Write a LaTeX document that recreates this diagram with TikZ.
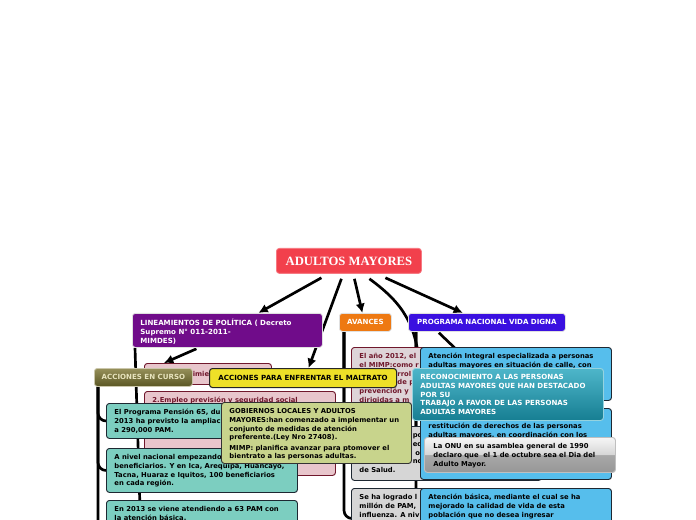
\documentclass[tikz,border=0pt]{standalone}
\usepackage{fontspec}
\newfontfamily\mapfont{DejaVu Sans}
\newfontfamily\titlefont{Liberation Serif}
\usetikzlibrary{arrows.meta}

\definecolor{titlered}{RGB}{242,64,76}
\definecolor{linpurple}{RGB}{112,12,138}
\definecolor{avorange}{RGB}{238,121,18}
\definecolor{progblue}{RGB}{58,16,224}
\definecolor{olivetop}{RGB}{150,144,90}
\definecolor{olivebot}{RGB}{90,86,36}
\definecolor{olivetext}{RGB}{232,228,190}
\definecolor{maltyellow}{RGB}{238,224,40}
\definecolor{gobgreen}{RGB}{200,212,140}
\definecolor{cursoteal}{RGB}{124,206,192}
\definecolor{linpink}{RGB}{232,198,204}
\definecolor{darkrose}{RGB}{112,24,44}
\definecolor{avgray}{RGB}{214,214,214}
\definecolor{avrose}{RGB}{222,212,216}
\definecolor{vidablue}{RGB}{86,190,236}
\definecolor{recotop}{RGB}{78,182,202}
\definecolor{recobot}{RGB}{22,126,146}
\definecolor{boxline}{RGB}{30,40,50}
\definecolor{onutop}{RGB}{246,246,246}
\definecolor{onuhigh}{RGB}{214,214,214}
\definecolor{onumid}{RGB}{168,168,168}
\definecolor{onulow}{RGB}{150,150,150}

\newcommand{\bx}[3]{\parbox[c][#2][t]{#1}{\raggedright\rule{0pt}{4pt}#3}}

\pgfdeclarelayer{bg}
\pgfsetlayers{bg,main}

\pgfdeclareverticalshading{onushade}{100bp}{color(0bp)=(onulow); color(25bp)=(onulow); color(50bp)=(onumid); color(50.5bp)=(onuhigh); color(75bp)=(onutop); color(100bp)=(onutop)}

\begin{document}
\begin{tikzpicture}[
    x=0.75pt, y=-0.75pt,
    every node/.style={anchor=north west},
    mapbox/.style={
        draw=boxline,
        rounded corners=2.2pt,
        line width=0.7pt,
        inner xsep=6pt,
        inner ysep=4.5pt,
        font=\mapfont\bfseries\fontsize{5.1}{6.5}\selectfont
    },
    headbox/.style={
        draw=black!12,
        rounded corners=2.2pt,
        line width=0.6pt,
        inner sep=0pt,
        text=white,
        font=\mapfont\bfseries\fontsize{5.3}{6.5}\selectfont
    },
    link/.style={line width=2pt},
    arrow/.style={
        link,
        -{Latex[length=7pt,width=7pt]}
    }
]

\clip (0,0) rectangle (696,520);

% avances
\node[mapbox, fill=avrose, draw=darkrose, text=darkrose] (avUno) at (351,347)
    {\bx{130.5pt}{43.5pt}{El año 2012, el\\el MIMP:como r\\\hspace*{28.5pt}rrol\\\hspace*{28.5pt}de p\\prevención y\\dirigidas a m}};
\node[mapbox, fill=avgray] (avDos) at (351,426)
    {\bx{130.5pt}{31.5pt}{\hspace*{40pt}po\\\hspace*{40pt}ed\\\hspace*{42pt}o\\\hspace*{40pt}nc\\de Salud.}};
\node[mapbox, fill=avgray] (avTres) at (351,488)
    {\bx{130.5pt}{36pt}{Se ha logrado l\\millón de PAM,\\influenza. A niv}};

% vida digna
\node[mapbox, fill=vidablue] (vidaUno) at (420,347)
    {\bx{131.25pt}{30.75pt}{Atención Integral especializada a personas\\adultas mayores en situación de calle, con}};
\node[mapbox, fill=vidablue] (vidaDos) at (420,408)
    {\bx{131.25pt}{44.25pt}{\mbox{}\\restitución de derechos de las personas\\adultas mayores, en coordinación con los}};
\node[mapbox, fill=vidablue] (vidaTres) at (420,488)
    {\bx{131.25pt}{36pt}{Atención básica, mediante el cual se ha\\mejorado la calidad de vida de esta\\población que no desea ingresar}};

% lineamientos
\node[mapbox, fill=linpink, draw=darkrose, text=darkrose, text width=81.75pt, align=left,
    minimum height=15.75pt, inner xsep=6.75pt, inner ysep=0pt] (envejecimiento) at (144,363)
    {\hspace*{29.5pt}imie};
\node[mapbox, fill=linpink, draw=darkrose, text=darkrose] (empleo) at (144,391)
    {\bx{131.25pt}{54pt}{2.Empleo previsión y seguridad social}};

% acciones en curso
\node[mapbox, fill=cursoteal] (pension) at (106,403)
    {\bx{131.25pt}{17.25pt}{El Programa Pensión 65, du\\2013 ha previsto la ampliac\\a 290,000 PAM.}};
\node[mapbox, fill=cursoteal] (nacional) at (106,448)
    {\bx{131.25pt}{24pt}{A nivel nacional empezando\\beneficiarios. Y en Ica, Arequipa, Huancayo,\\Tacna, Huaraz e Iquitos, 100 beneficiarios\\en cada región.}};
\node[mapbox, fill=cursoteal] (basica) at (106,500)
    {\bx{131.25pt}{36pt}{En 2013 se viene atendiendo a 63 PAM con\\la atención básica.}};

\node[headbox, top color=olivetop, bottom color=olivebot, draw=olivetop!50!white,
    text=olivetext, minimum width=73.5pt, minimum height=13.5pt] (enCurso) at (94,368)
    {ACCIONES EN CURSO};

\node[headbox, fill=maltyellow, draw=black!85, line width=0.8pt, text=black,
    minimum width=140.25pt, minimum height=14.25pt] (maltrato) at (209,368)
    {ACCIONES PARA ENFRENTAR EL MALTRATO};

\node[mapbox, fill=gobgreen, draw=black!80] (gobiernos) at (221,402)
    {\bx{130.5pt}{36.75pt}{GOBIERNOS LOCALES Y ADULTOS\\MAYORES:han comenzado a implementar un\\conjunto de medidas de atención\\preferente.(Ley Nro 27408).\\[1.2pt]MIMP: planifica avanzar para ptomover el\\bientrato a las personas adultas.}};

\node[mapbox, top color=recotop, bottom color=recobot, draw=recotop!60!white, text=white,
    font=\mapfont\bfseries\fontsize{5.3}{6.5}\selectfont] (reconocimiento) at (412,368)
    {\bx{131.25pt}{30pt}{RECONOCIMIENTO A LAS PERSONAS\\ADULTAS MAYORES QUE HAN DESTACADO\\POR SU\\TRABAJO A FAVOR DE LAS PERSONAS\\ADULTAS MAYORES}};

\node[mapbox, shade, shading=onushade, draw=black!25, inner xsep=6.75pt] (onu) at (424,437)
    {\bx{129.75pt}{17.25pt}{La ONU en su asamblea general de 1990\\declaro que\ \ el 1 de octubre sea el Dia del\\Adulto Mayor.}};

% main topics
\node[headbox, fill=titlered, draw=titlered!70!white, minimum width=108.75pt, minimum height=18.75pt,
    font=\titlefont\bfseries\fontsize{9.5}{11}\selectfont] (title) at (276,248)
    {ADULTOS MAYORES};

\node[headbox, fill=linpurple, inner xsep=6pt, inner ysep=4.5pt] (lineamientos) at (132,313)
    {\bx{130.5pt}{16.5pt}{LINEAMIENTOS DE POLÍTICA ( Decreto\\Supremo N° 011-2011-\\MIMDES)}};

\node[headbox, fill=avorange, minimum width=39pt, minimum height=13.5pt] (avances) at (339,313)
    {AVANCES};

\node[headbox, fill=progblue, minimum width=117.75pt, minimum height=13.5pt] (programa) at (408,313)
    {PROGRAMA NACIONAL VIDA DIGNA};

\coordinate (lineamientosBajo) at (141,540);

\begin{pgfonlayer}{bg}
\draw[arrow] ([shift={(-27.5,4)}]title.south) -- ([shift={(31,0)}]lineamientos.north);
\draw[arrow] ([shift={(-7.5,5)}]title.south) -- ([shift={(5.5,0)}]maltrato.north);
\draw[arrow] ([shift={(5.5,5)}]title.south) -- ([shift={(-3,0)}]avances.north);
\draw[link] ([shift={(20.5,5)}]title.south) .. controls (404,304) and (416,325) .. ([shift={(8,0)}]reconocimiento.north west);
\draw[arrow] ([shift={(36.5,4)}]title.south) -- ([shift={(-24,0)}]programa.north);

\draw[arrow] ([shift={(-31,1)}]lineamientos.south) -- ([shift={(-44,0)}]envejecimiento.north);
\draw[link] ([shift={(3,0)}]lineamientos.south west) .. controls (136,380) .. (lineamientosBajo);

\draw[link, rounded corners=6pt] ([shift={(4,0)}]enCurso.south west) |- (pension.west);
\draw[link, rounded corners=6pt] ([shift={(4,0)}]enCurso.south west) |- (nacional.west);
\draw[link, rounded corners=6pt] ([shift={(4,0)}]enCurso.south west) |- (basica.west);

\draw[link, rounded corners=6pt] ([shift={(5,0)}]avances.south west) |- (avUno.west);
\draw[link, rounded corners=6pt] ([shift={(5,0)}]avances.south west) |- (avDos.west);
\draw[link, rounded corners=6pt] ([shift={(5,0)}]avances.south west) |- (avTres.west);

\draw[link] ([shift={(-48,1)}]programa.south) -- ([shift={(-58,4)}]vidaUno.north);
\draw[link, rounded corners=6pt] ([shift={(8,0)}]programa.south west) |- (vidaDos.west);
\draw[link, rounded corners=6pt] ([shift={(8,0)}]programa.south west) |- (vidaTres.west);
\end{pgfonlayer}

\end{tikzpicture}
\end{document}
